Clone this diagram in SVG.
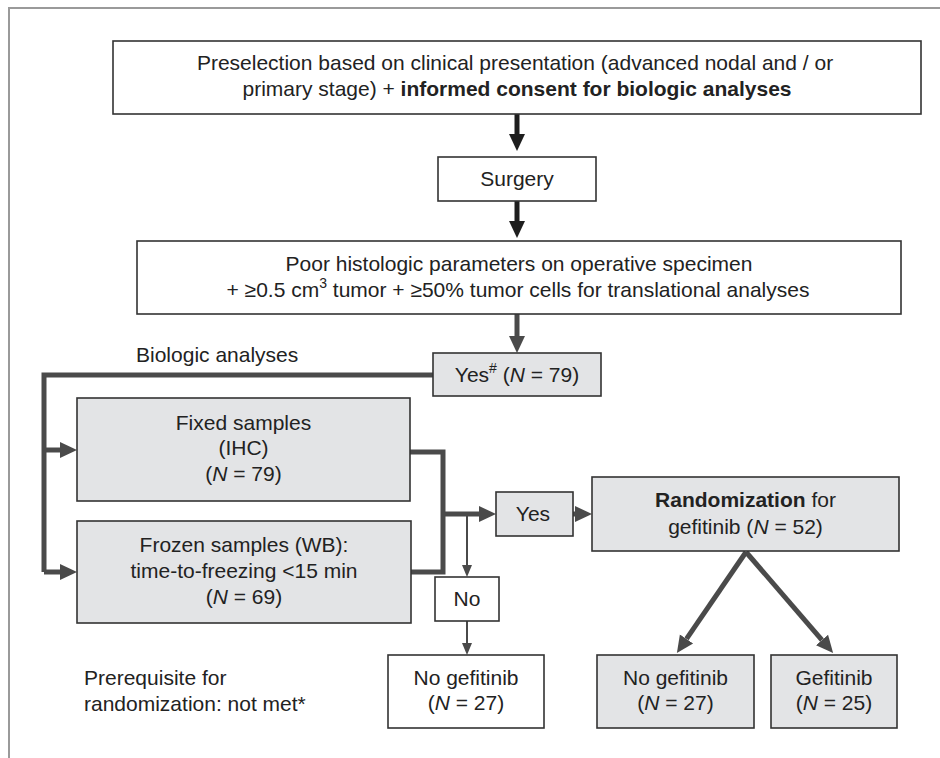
<svg xmlns="http://www.w3.org/2000/svg" width="940" height="758" viewBox="0 0 940 758">
<defs>
<style>
text{font-family:"Liberation Sans",Arial,Helvetica,sans-serif;font-size:21px;fill:#222;}
.c{text-anchor:middle;}
.b{font-weight:bold;}
.i{font-style:italic;}
.w{fill:#fff;stroke:#333;stroke-width:1.6;}
.g{fill:#e3e4e6;stroke:#333;stroke-width:1.6;}
.thick{fill:none;stroke:#4a4a4a;stroke-width:5;}
.blk{fill:none;stroke:#1e1e1e;stroke-width:5;}
.thin{fill:none;stroke:#4a4a4a;stroke-width:2;}
</style>
<marker id="hk" markerUnits="userSpaceOnUse" markerWidth="18" markerHeight="18" refX="0" refY="8" orient="auto" viewBox="0 0 18 16"><path d="M0,0 L17,8 L0,16 z" fill="#1e1e1e"/></marker>
<marker id="hg" markerUnits="userSpaceOnUse" markerWidth="18" markerHeight="18" refX="0" refY="8" orient="auto" viewBox="0 0 18 16"><path d="M0,0 L17,8 L0,16 z" fill="#4a4a4a"/></marker>
<marker id="ht" markerUnits="userSpaceOnUse" markerWidth="13" markerHeight="11" refX="0" refY="5" orient="auto" viewBox="0 0 13 10"><path d="M0,0 L12,5 L0,10 z" fill="#4a4a4a"/></marker>
</defs>
<rect width="940" height="758" fill="#fff"/>
<path d="M9,758 L9,8 L940,8" fill="none" stroke="#9a9a9a" stroke-width="2"/>

<g id="connectors">
<path class="blk" d="M517,114 L517,134" marker-end="url(#hk)"/>
<path class="blk" d="M517,201 L517,221" marker-end="url(#hk)"/>
<path class="thick" d="M517,314 L517,336" marker-end="url(#hg)"/>
<path class="thick" d="M433,375 L44,375 L44,572"/>
<path class="thick" d="M44,450 L60,450" marker-end="url(#hg)"/>
<path class="thick" d="M44,572 L60,572" marker-end="url(#hg)"/>
<path class="thick" d="M410,452 L443,452 L443,572 L411,572"/>
<path class="thick" d="M443,514 L479,514" marker-end="url(#hg)"/>
<path class="thin" d="M467,514 L467,565" marker-end="url(#ht)"/>
<path class="thin" d="M467,621 L467,643" marker-end="url(#ht)"/>
<path class="thick" d="M566,514 L575,514" marker-end="url(#hg)"/>
<path class="thick" d="M746,552 L686.5,638.9" marker-end="url(#hg)"/>
<path class="thick" d="M746,552 L822,640.1" marker-end="url(#hg)"/>
</g>

<g id="preselection">
<rect class="w" x="113" y="41" width="808" height="73"/>
<text class="c" x="515" y="70">Preselection based on clinical presentation (advanced nodal and / or</text>
<text class="c" x="517" y="96">primary stage) + <tspan class="b">informed consent for biologic analyses</tspan></text>
</g>

<g id="surgery">
<rect class="w" x="438" y="157" width="158" height="44"/>
<text class="c" x="517" y="186">Surgery</text>
</g>

<g id="histologic">
<rect class="w" x="137" y="241" width="764" height="73"/>
<text class="c" x="519" y="271">Poor histologic parameters on operative specimen</text>
<text class="c" x="518" y="297">+ ≥0.5 cm<tspan dy="-9" font-size="14">3</tspan><tspan dy="9"> tumor + ≥50% tumor cells for translational analyses</tspan></text>
</g>

<g id="yes79">
<rect class="g" x="433" y="353" width="168" height="43"/>
<text class="c" x="517" y="382">Yes<tspan dy="-9" font-size="14">#</tspan><tspan dy="9"> (</tspan><tspan class="i">N</tspan> = 79)</text>
</g>

<g id="biologic-label">
<text x="136" y="362">Biologic analyses</text>
</g>

<g id="fixed">
<rect class="g" x="77" y="398" width="333" height="103"/>
<text class="c" x="243.5" y="430">Fixed samples</text>
<text class="c" x="243.5" y="455">(IHC)</text>
<text class="c" x="243.5" y="481">(<tspan class="i">N</tspan> = 79)</text>
</g>

<g id="frozen">
<rect class="g" x="77" y="521" width="334" height="102"/>
<text class="c" x="244" y="552">Frozen samples (WB):</text>
<text class="c" x="244" y="578">time-to-freezing &lt;15 min</text>
<text class="c" x="244" y="604">(<tspan class="i">N</tspan> = 69)</text>
</g>

<g id="yes">
<rect class="g" x="496" y="492" width="77" height="44"/>
<text class="c" x="533" y="521">Yes</text>
</g>

<g id="no">
<rect class="w" x="435" y="577" width="64" height="44"/>
<text class="c" x="467" y="606">No</text>
</g>

<g id="randomization">
<rect class="g" x="592" y="477" width="307" height="74"/>
<text class="c" x="745.5" y="507"><tspan class="b">Randomization</tspan> for</text>
<text class="c" x="745.5" y="534">gefitinib (<tspan class="i">N</tspan> = 52)</text>
</g>

<g id="no-gefitinib-left">
<rect class="w" x="388" y="655" width="156" height="73"/>
<text class="c" x="466" y="685">No gefitinib</text>
<text class="c" x="466" y="710">(<tspan class="i">N</tspan> = 27)</text>
</g>

<g id="no-gefitinib-right">
<rect class="g" x="597" y="655" width="157" height="73"/>
<text class="c" x="675.5" y="685">No gefitinib</text>
<text class="c" x="675.5" y="710">(<tspan class="i">N</tspan> = 27)</text>
</g>

<g id="gefitinib">
<rect class="g" x="771" y="655" width="126" height="73"/>
<text class="c" x="834" y="685">Gefitinib</text>
<text class="c" x="834" y="710">(<tspan class="i">N</tspan> = 25)</text>
</g>

<g id="prerequisite">
<text x="84" y="685">Prerequisite for</text>
<text x="84" y="711">randomization: not met*</text>
</g>
</svg>
